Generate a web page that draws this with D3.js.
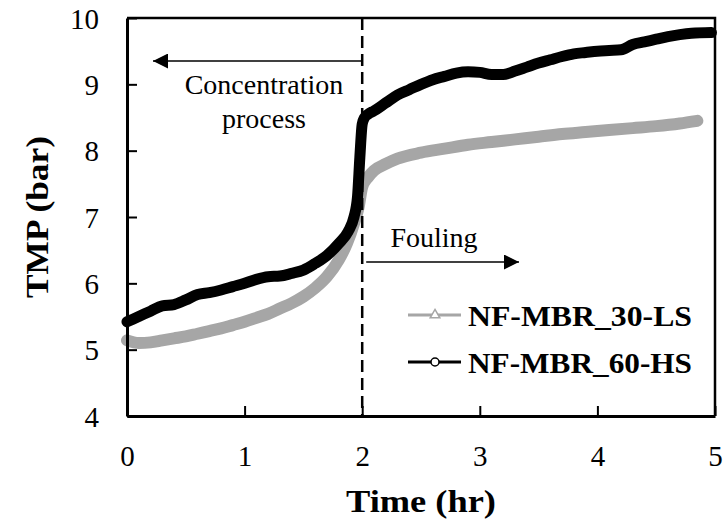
<!DOCTYPE html>
<html>
<head>
<meta charset="utf-8">
<script src="https://cdn.jsdelivr.net/npm/d3@7"></script>
<style>
  body { margin: 0; background: #fff; }
  svg, svg text { font-family: "Liberation Serif", "Times New Roman", serif; }
  svg { display: block; }
</style>
</head>
<body>
<svg class="canvas" width="725" height="521"></svg>
<script>
// TMP over time
const timeHS = [0, 0.1, 0.2, 0.3, 0.4, 0.5, 0.6, 0.7, 0.8, 0.9, 1.0, 1.1, 1.2, 1.3, 1.4, 1.5, 1.6, 1.7, 1.8, 1.88, 1.93, 1.96, 1.98, 2.0, 2.02, 2.05, 2.1, 2.2, 2.3, 2.4, 2.5, 2.6, 2.7, 2.8, 2.9, 3.0, 3.1, 3.2, 3.3, 3.4, 3.5, 3.6, 3.7, 3.8, 3.9, 4.0, 4.1, 4.2, 4.3, 4.4, 4.5, 4.6, 4.7, 4.8, 4.97];
const tmpHS = [5.42, 5.5, 5.58, 5.66, 5.68, 5.75, 5.83, 5.86, 5.9, 5.95, 6.0, 6.06, 6.1, 6.11, 6.15, 6.2, 6.3, 6.42, 6.6, 6.78, 7.0, 7.3, 7.9, 8.4, 8.5, 8.55, 8.6, 8.72, 8.84, 8.92, 9.0, 9.07, 9.12, 9.17, 9.19, 9.18, 9.15, 9.15, 9.2, 9.26, 9.32, 9.37, 9.42, 9.46, 9.48, 9.5, 9.51, 9.52, 9.6, 9.64, 9.68, 9.72, 9.75, 9.77, 9.78];

const timeLS = [0, 0.1, 0.2, 0.3, 0.4, 0.5, 0.6, 0.7, 0.8, 0.9, 1.0, 1.1, 1.2, 1.3, 1.4, 1.5, 1.6, 1.7, 1.8, 1.87, 1.93, 1.97, 2.0, 2.05, 2.1, 2.2, 2.3, 2.5, 2.7, 2.9, 3.1, 3.3, 3.5, 3.7, 3.9, 4.1, 4.3, 4.5, 4.7, 4.85];
const tmpLS = [5.14, 5.1, 5.11, 5.14, 5.17, 5.2, 5.24, 5.28, 5.32, 5.37, 5.42, 5.48, 5.54, 5.62, 5.7, 5.8, 5.93, 6.1, 6.35, 6.6, 6.9, 7.15, 7.45, 7.6, 7.7, 7.8, 7.88, 7.97, 8.03, 8.09, 8.13, 8.17, 8.21, 8.25, 8.28, 8.31, 8.34, 8.37, 8.41, 8.45];

const xTicks = [0, 1, 2, 3, 4, 5];
const yTicks = [4, 5, 6, 7, 8, 9, 10];
const seriesNames = ["NF-MBR_30-LS", "NF-MBR_60-HS"];
const seriesColors = ["#a6a6a6", "#000000"];

const serif = "Liberation Serif, Times New Roman, serif";
const margin = { top: 18, right: 10, bottom: 105, left: 127 };
const width = 725 - margin.left - margin.right;
const height = 521 - margin.top - margin.bottom;

const svg = d3.select(".canvas");
const g = svg.append("g").attr("transform", `translate(${margin.left},${margin.top})`);

const x = d3.scaleLinear().domain([0, 5]).range([0, width]);
const y = d3.scaleLinear().domain([4, 10]).range([height, 0]);

// arrow heads
const defs = svg.append("defs");
defs.append("marker")
  .attr("id", "head")
  .attr("viewBox", "0 0 10 10")
  .attr("refX", 10)
  .attr("refY", 5)
  .attr("markerUnits", "userSpaceOnUse")
  .attr("markerWidth", 16)
  .attr("markerHeight", 15)
  .attr("orient", "auto")
  .append("path")
  .attr("d", "M0,0L10,5L0,10Z")
  .attr("fill", "#000");

const series = [
  { name: seriesNames[0], color: seriesColors[0], w: 12, pts: timeLS.map((t, i) => [t, tmpLS[i]]) },
  { name: seriesNames[1], color: seriesColors[1], w: 11, pts: timeHS.map((t, i) => [t, tmpHS[i]]) }
];

const line = d3.line()
  .x(d => x(d[0]))
  .y(d => y(d[1]))
  .curve(d3.curveMonotoneX);

g.selectAll("path.series")
  .data(series)
  .enter()
  .append("path")
  .attr("class", "series")
  .attr("d", d => line(d.pts))
  .attr("fill", "none")
  .attr("stroke", d => d.color)
  .attr("stroke-width", d => d.w)
  .attr("stroke-linejoin", "round")
  .attr("stroke-linecap", "round");

// dashed divider at 2 hr
g.append("line")
  .attr("x1", x(2)).attr("x2", x(2))
  .attr("y1", 0).attr("y2", height)
  .attr("stroke", "#000")
  .attr("stroke-width", 2.5)
  .attr("stroke-dasharray", "12,6");

// axes, ticks pointing inward
const xAxis = g.append("g")
  .attr("transform", `translate(0,${height})`)
  .call(d3.axisBottom(x).tickValues(xTicks).tickFormat(d3.format("d"))
    .tickSizeInner(-10).tickSizeOuter(0).tickPadding(28));
const yAxis = g.append("g")
  .call(d3.axisLeft(y).tickValues(yTicks).tickFormat(d3.format("d"))
    .tickSizeInner(-10).tickSizeOuter(0).tickPadding(28));

[xAxis, yAxis].forEach(a => {
  a.attr("font-family", serif).attr("font-size", 29);
  a.select(".domain").attr("stroke-width", 3);
  a.selectAll(".tick line").attr("stroke-width", 2);
  a.selectAll(".tick text").attr("fill", "#000");
});
xAxis.selectAll(".tick text").attr("dy", "0.75em");
yAxis.selectAll(".tick text").attr("dy", "0.35em");

// top and right border
g.append("path")
  .attr("d", `M0,0H${width}V${height}`)
  .attr("fill", "none")
  .attr("stroke", "#000")
  .attr("stroke-width", 2.5);

// axis titles
svg.append("text")
  .attr("x", margin.left + x(2.5))
  .attr("y", 512)
  .attr("text-anchor", "middle")
  .attr("font-size", 32)
  .attr("font-weight", "bold")
  .attr("textLength", 150)
  .attr("lengthAdjust", "spacingAndGlyphs")
  .text("Time (hr)");

svg.append("text")
  .attr("transform", `translate(48,${margin.top + y(7)}) rotate(-90)`)
  .attr("text-anchor", "middle")
  .attr("font-size", 32)
  .attr("font-weight", "bold")
  .attr("textLength", 162)
  .attr("lengthAdjust", "spacingAndGlyphs")
  .text("TMP (bar)");

// annotations
g.append("line")
  .attr("x1", x(2)).attr("x2", 26)
  .attr("y1", 43).attr("y2", 43)
  .attr("stroke", "#000").attr("stroke-width", 1.5)
  .attr("marker-end", "url(#head)");
g.append("text")
  .attr("x", 137).attr("y", 76)
  .attr("text-anchor", "middle")
  .attr("font-size", 28)
  .text("Concentration");
g.append("text")
  .attr("x", 137).attr("y", 110)
  .attr("text-anchor", "middle")
  .attr("font-size", 28)
  .text("process");

g.append("line")
  .attr("x1", x(2) + 4).attr("x2", 392)
  .attr("y1", 244).attr("y2", 244)
  .attr("stroke", "#000").attr("stroke-width", 1.5)
  .attr("marker-end", "url(#head)");
g.append("text")
  .attr("x", 307).attr("y", 229)
  .attr("text-anchor", "middle")
  .attr("font-size", 28)
  .text("Fouling");

// legend
const legend = g.selectAll("g.legend")
  .data(series)
  .enter()
  .append("g")
  .attr("class", "legend")
  .attr("transform", (d, i) => `translate(281,${297 + i * 47})`);

legend.append("line")
  .attr("x1", 0).attr("x2", 53)
  .attr("stroke", d => d.color)
  .attr("stroke-width", 3);
legend.filter((d, i) => i === 0)
  .append("path")
  .attr("d", d3.symbol(d3.symbolTriangle, 40))
  .attr("transform", "translate(27,0)")
  .attr("fill", "#fff")
  .attr("stroke", d => d.color)
  .attr("stroke-width", 1.5);
legend.filter((d, i) => i === 1)
  .append("circle")
  .attr("cx", 27).attr("r", 4)
  .attr("fill", "#fff")
  .attr("stroke", d => d.color)
  .attr("stroke-width", 1.5);
legend.append("text")
  .attr("x", 60)
  .attr("y", 11)
  .attr("font-size", 30)
  .attr("font-weight", "bold")
  .attr("textLength", 224)
  .attr("lengthAdjust", "spacingAndGlyphs")
  .text(d => d.name);
</script>
</body>
</html>
